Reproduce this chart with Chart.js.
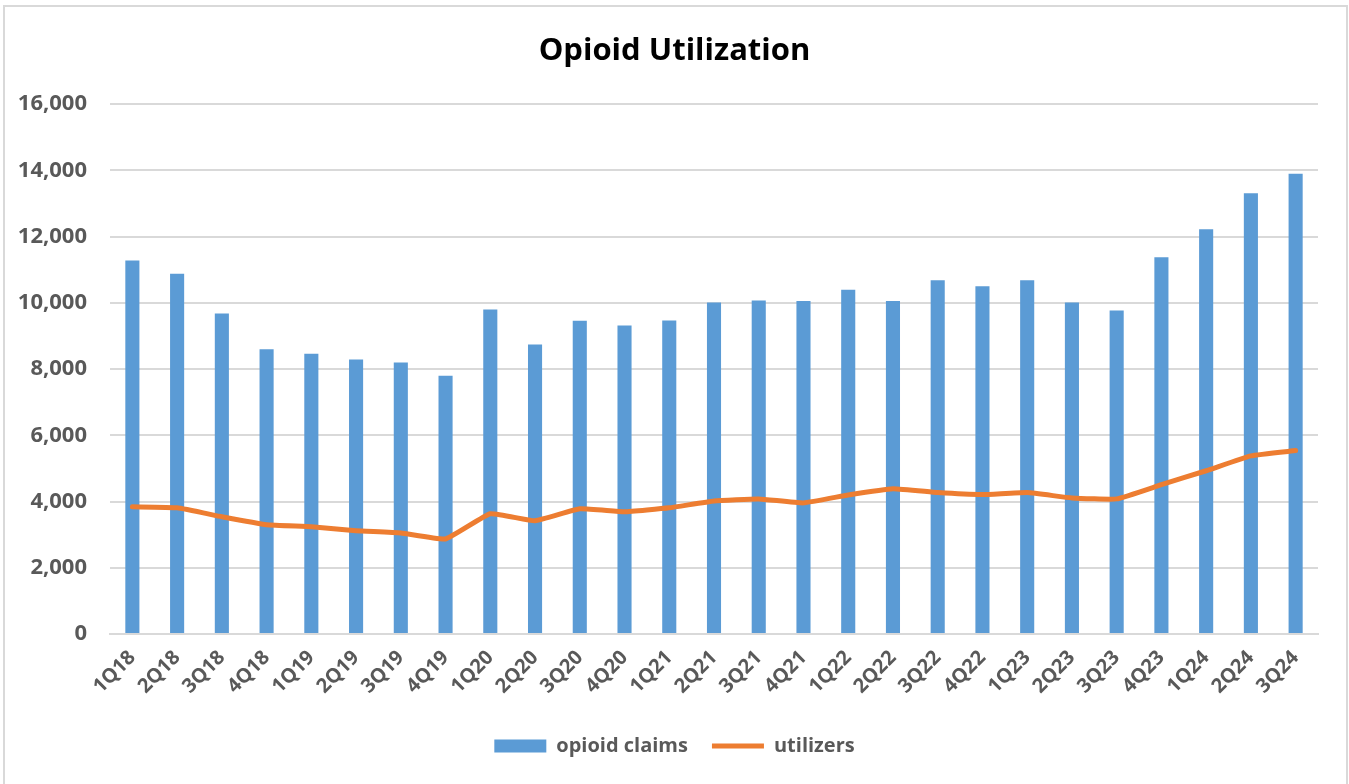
<!DOCTYPE html>
<html>
<head>
<meta charset="utf-8">
<title>Opioid Utilization</title>
<script src="https://cdn.jsdelivr.net/npm/chart.js@4/dist/chart.umd.min.js"></script>
<style>
  html, body { margin: 0; padding: 0; background: #fff; overflow: hidden; }
  #wrap { position: relative; width: 1349px; height: 784px; }
  #frame {
    position: absolute; left: 3px; top: 5px; width: 1341px; height: 800px;
    border: 2px solid #d9d9d9; pointer-events: none;
  }
</style>
</head>
<body>
<div id="wrap">
  <canvas id="chart" width="1349" height="784"></canvas>
  <div id="frame"></div>
</div>
<script>
// ---- Data ----
const quarters = [
  "1Q18", "2Q18", "3Q18", "4Q18",
  "1Q19", "2Q19", "3Q19", "4Q19",
  "1Q20", "2Q20", "3Q20", "4Q20",
  "1Q21", "2Q21", "3Q21", "4Q21",
  "1Q22", "2Q22", "3Q22", "4Q22",
  "1Q23", "2Q23", "3Q23", "4Q23",
  "1Q24", "2Q24", "3Q24"
];

const opioidClaims = [
  11280, 10880, 9680, 8600,
  8460, 8290, 8200, 7800,
  9800, 8740, 9460, 9320,
  9470, 10010, 10070, 10060,
  10400, 10060, 10680, 10500,
  10680, 10010, 9770, 11380,
  12220, 13310, 13900
];

const utilizers = [
  3840, 3810, 3540, 3300,
  3240, 3120, 3050, 2870,
  3630, 3420, 3780, 3690,
  3810, 4020, 4080, 3960,
  4200, 4390, 4270, 4210,
  4270, 4110, 4080, 4510,
  4930, 5380, 5540
];

const yTicks = { min: 0, max: 16000, step: 2000 };

// ---- Styles ----
const FONT = "'Open Sans', 'Liberation Sans', sans-serif";
const GREY_TEXT = "#595959";
const GRID = "#d9d9d9";

Chart.defaults.font.family = FONT;

const ctx = document.getElementById("chart").getContext("2d");

new Chart(ctx, {
  type: "bar",
  data: {
    labels: quarters,
    datasets: [
      {
        type: "bar",
        label: "opioid claims",
        data: opioidClaims,
        backgroundColor: "#5b9bd5",
        borderWidth: 0,
        categoryPercentage: 1,
        barPercentage: 0.315,
        order: 2,
        pointStyle: "rect",
      },
      {
        type: "line",
        label: "utilizers",
        data: utilizers,
        borderColor: "#ed7d31",
        backgroundColor: "#ed7d31",
        borderWidth: 5,
        borderCapStyle: "round",
        tension: 0.12,
        pointRadius: 0,
        fill: false,
        order: 1,
        pointStyle: "line",
      },
    ],
  },
  options: {
    responsive: false,
    animation: false,
    layout: { padding: { left: 0, right: 0, top: 0, bottom: 18 } },
    plugins: {
      title: {
        display: true,
        text: "Opioid Utilization",
        color: "#000",
        font: { size: 31, weight: "bold" },
        padding: { top: 33, bottom: 34 },
      },
      legend: {
        position: "bottom",
        labels: {
          color: GREY_TEXT,
          font: { size: 20, weight: "bold" },
          usePointStyle: true,
          pointStyleWidth: 52,
          boxHeight: 13,
          padding: 24,
          sort: (a, b) => a.datasetIndex - b.datasetIndex,
        },
      },
      tooltip: { enabled: false },
    },
    scales: {
      x: {
        grid: { display: false, drawTicks: false },
        border: { display: true, color: GRID, width: 2 },
        ticks: {
          color: GREY_TEXT,
          font: { size: 20, weight: "bold" },
          minRotation: 45,
          maxRotation: 45,
          padding: 12,
          autoSkip: false,
        },
        afterFit: scale => { scale.height = 78; },
      },
      y: {
        min: yTicks.min,
        max: yTicks.max,
        grid: { color: GRID, lineWidth: 2, drawTicks: false },
        border: { display: false },
        ticks: {
          stepSize: yTicks.step,
          color: GREY_TEXT,
          font: { size: 22, weight: "bold" },
          padding: 23,
          callback: v => v.toLocaleString("en-US"),
        },
        afterFit: scale => { scale.width = 110; },
      },
      // empty right-hand axis: keeps the right margin inside the layout
      // so title and legend stay centred on the whole picture
      spacer: {
        position: "right",
        grid: { display: false, drawTicks: false },
        border: { display: false },
        ticks: { display: false },
        afterFit: scale => { scale.width = 31; },
      },
    },
  },
});
</script>
</body>
</html>
